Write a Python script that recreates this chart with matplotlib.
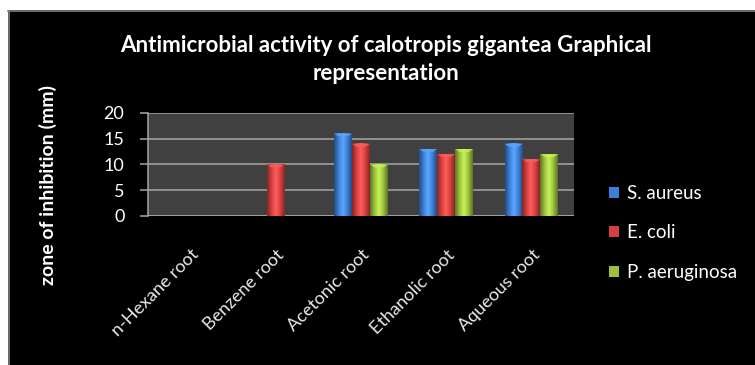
import numpy as np
import matplotlib
matplotlib.use("Agg")
import matplotlib.pyplot as plt
from matplotlib.patches import Rectangle
from matplotlib.colors import LinearSegmentedColormap, to_rgb

categories = ["n-Hexane root", "Benzene root", "Acetonic root", "Ethanolic root", "Aqueous root"]
s_aureus = [0, 0, 16, 13, 14]
e_coli = [0, 10, 14, 12, 11]
p_aeruginosa = [0, 0, 10, 13, 12]
series_names = ["S. aureus", "E. coli", "P. aeruginosa"]
y_ticks = [0, 5, 10, 15, 20]

colors = ["#3d7fd6", "#d63f3f", "#9cc13c"]

plt.rcParams["font.family"] = ["Lato", "DejaVu Sans"]

W, H = 755, 365
fig = plt.figure(figsize=(W / 100, H / 100), dpi=100)
fig.patch.set_facecolor("black")

# white page margin on top and left with thin grey border
fig.patches.append(Rectangle((0, 1 - 10 / H), 1, 10 / H, transform=fig.transFigure,
                             facecolor="white", edgecolor="none", zorder=0))
fig.patches.append(Rectangle((0, 0), 8 / W, 1, transform=fig.transFigure,
                             facecolor="white", edgecolor="none", zorder=0))
fig.add_artist(plt.Line2D([8 / W, 1], [1 - 10.5 / H, 1 - 10.5 / H], transform=fig.transFigure,
                          color="#808080", lw=1.2))
fig.add_artist(plt.Line2D([8.5 / W, 8.5 / W], [0, 1 - 10.5 / H], transform=fig.transFigure,
                          color="#808080", lw=1.2))

ax = fig.add_axes([148 / W, 1 - 216 / H, (574 - 148) / W, (216 - 113) / H])
ax.set_facecolor("#404040")

x = np.arange(len(categories))
bw = 0.21
series = [s_aureus, e_coli, p_aeruginosa]


def shaded_bar(ax, xc, h, color):
    if h <= 0:
        return
    base = np.array(to_rgb(color))
    dark = base * 0.6
    light = np.clip(base * 1.15 + 0.08, 0, 1)
    cmap = LinearSegmentedColormap.from_list("b", [dark, base, light, base, dark])
    grad = np.linspace(0, 1, 64).reshape(1, -1)
    x0, x1 = xc - bw / 2, xc + bw / 2
    ax.imshow(grad, cmap=cmap, extent=[x0, x1, 0, h], aspect="auto", zorder=3,
              interpolation="bilinear")
    cap = 0.55
    ax.add_patch(plt.Polygon([[x0, h], [x1, h], [xc + bw * 0.25, h - cap], [xc - bw * 0.25, h - cap]],
                             closed=True, facecolor=light, edgecolor="none", alpha=0.8, zorder=4))


handles = []
for i, (vals, c) in enumerate(zip(series, colors)):
    for xi, v in zip(x, vals):
        shaded_bar(ax, xi + (i - 1) * bw, v, c)
    handles.append(Rectangle((0, 0), 1, 1, facecolor=c, edgecolor="none", label=series_names[i]))

ax.set_xlim(-0.5, len(categories) - 0.5)
ax.set_ylim(0, 20)
ax.set_yticks(y_ticks)
ax.yaxis.grid(True, color="#a6a6a6", lw=1.1)
ax.set_axisbelow(True)
for s in ["top", "right", "bottom"]:
    ax.spines[s].set_visible(False)
ax.spines["left"].set_color("#a6a6a6")
ax.spines["left"].set_linewidth(1.1)
ax.tick_params(axis="y", colors="#a6a6a6", length=6, width=1.1, labelcolor="white",
               labelsize=13, pad=11)
ax.tick_params(axis="x", length=0, pad=22)
ax.set_xticks(x)
ax.set_xticklabels(categories, rotation=45, ha="right", va="top", rotation_mode="anchor",
                   color="#e8e8e8", fontsize=13)
ax.axhline(0, color="#a6a6a6", lw=1.1, zorder=2)

fig.text(386 / W, 1 - 45 / H, "Antimicrobial activity of calotropis gigantea Graphical",
         ha="center", va="center", color="white", fontsize=16, fontweight="bold")
fig.text(386 / W, 1 - 74 / H, "representation",
         ha="center", va="center", color="white", fontsize=16, fontweight="bold")
fig.text(48 / W, 1 - 185 / H, "zone of inhibition (mm)", rotation=90,
         ha="center", va="center", color="white", fontsize=14, fontweight="bold")

leg = fig.legend(handles=handles, loc="upper left", bbox_to_anchor=(592 / W, 1 - 168 / H),
                 frameon=False, labelcolor="white", fontsize=13.5, handlelength=0.55,
                 handleheight=0.55, handletextpad=0.4, labelspacing=1.2)

fig.savefig("out.png", dpi=100, facecolor=fig.get_facecolor())
